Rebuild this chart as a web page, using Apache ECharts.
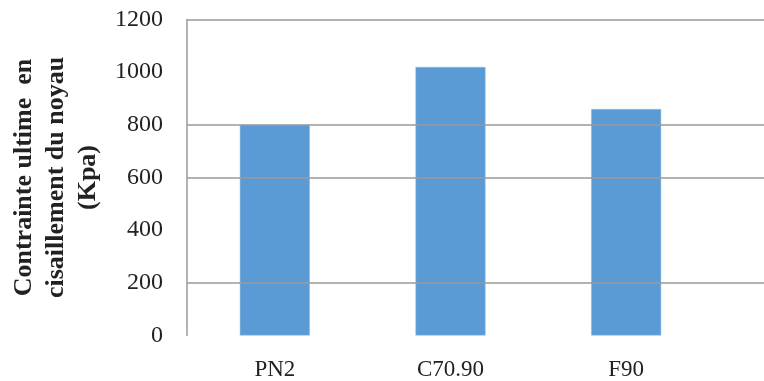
<!DOCTYPE html>
<html>
<head>
<meta charset="utf-8">
<script src="https://cdn.jsdelivr.net/npm/echarts@6/dist/echarts.min.js"></script>
<style>html,body{margin:0;padding:0;background:#fff;}#c{width:764px;height:381px;}</style>
</head>
<body>
<div id="c"></div>
<script>
const categories = ['PN2', 'C70.90', 'F90'];
const values = [800, 1020, 860];
const yTicks = [0, 200, 400, 600, 800, 1000, 1200];
const gridLineValues = [200, 600, 800, 1200];
const yTitle = 'Contrainte ultime  en\ncisaillement du noyau\n(Kpa)';

const chart = echarts.init(document.getElementById('c'), null, {renderer: 'canvas'});
const gridTop = 19.5, gridBottom = 45.5, gridLeft = 187;
chart.setOption({
  animation: false,
  backgroundColor: '#fff',
  grid: [
    {left: gridLeft, right: 50, top: gridTop, bottom: gridBottom, containLabel: false, outerBoundsMode: 'none'},
    {left: gridLeft, right: 0, top: gridTop, bottom: gridBottom, containLabel: false, outerBoundsMode: 'none'}
  ],
  xAxis: [
    {
      type: 'category', gridIndex: 0, data: categories,
      axisLine: {show: false}, axisTick: {show: false},
      axisLabel: {fontFamily: 'Liberation Serif', fontSize: 23, color: '#222', margin: 23}
    },
    {type: 'value', gridIndex: 1, min: 0, max: 1, show: false}
  ],
  yAxis: [
    {
      type: 'value', gridIndex: 0, min: yTicks[0], max: yTicks[yTicks.length - 1], interval: yTicks[1] - yTicks[0],
      axisLine: {show: true, lineStyle: {color: '#9a9a9a', width: 1.5}},
      axisTick: {show: false},
      splitLine: {show: false},
      axisLabel: {fontFamily: 'Liberation Serif', fontSize: 24, color: '#222', margin: 24, formatter: v => String(v)},
      name: yTitle, nameLocation: 'middle', nameRotate: 90, nameGap: 83,
      nameTextStyle: {fontFamily: 'Liberation Serif', fontWeight: 'bold', fontSize: 26, color: '#222', lineHeight: 32, align: 'center'}
    },
    {type: 'value', gridIndex: 1, min: yTicks[0], max: yTicks[yTicks.length - 1], show: false}
  ],
  series: [
    {
      type: 'line', xAxisIndex: 1, yAxisIndex: 1, data: [], silent: true, z: 1,
      markLine: {
        silent: true, symbol: ['none', 'none'], label: {show: false},
        lineStyle: {color: '#9a9a9a', width: 1.5, type: 'solid'},
        data: gridLineValues.map(v => ({yAxis: v}))
      }
    },
    {
      type: 'bar', xAxisIndex: 0, yAxisIndex: 0, data: values, barWidth: 70, z: 3,
      itemStyle: {color: '#5B9BD5', borderColor: '#8fbde6', borderWidth: 0.5}
    }
  ]
});
</script>
</body>
</html>
